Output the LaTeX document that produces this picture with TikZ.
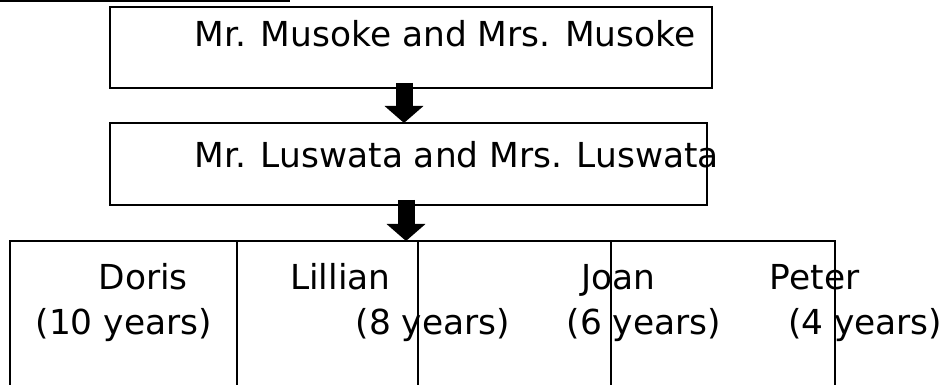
\documentclass[tikz,border=0pt]{standalone}
\usepackage{fontspec}
\setmainfont{DejaVu Sans}
\usetikzlibrary{arrows.meta}
\begin{document}
\begin{tikzpicture}[x=1pt,y=1pt]
	\tikzstyle{FB}=[rectangle,draw=black,line width=2pt,inner sep=0pt,outer sep=0pt]
	\tikzstyle{TX}=[anchor=base west,inner sep=0pt,font=\fontsize{34.4}{40}\selectfont]
	\tikzstyle{AR}=[line width=17pt,-{Triangle[width=38pt,length=17pt]}]
	\path[use as bounding box,clip] (0,0) rectangle (946,385);
	
	\draw[line width=2pt] (0,383.5) -- (290,383.5);
	
	\begin{scope}
	\node[FB,minimum width=602pt,minimum height=81pt] (musoke)  at (411,337.5) {};
	\node[FB,minimum width=597pt,minimum height=82pt] (luswata) at (408.5,221) {};
	
	\node[FB,minimum width=227pt,minimum height=160pt] (doriscell)   at (123.5,64) {};
	\node[FB,minimum width=181pt,minimum height=160pt] (lilliancell) at (327.5,64) {};
	\node[FB,minimum width=193pt,minimum height=160pt] (joancell)    at (514.5,64) {};
	\node[FB,minimum width=224pt,minimum height=160pt] (petercell)   at (723,64)   {};
	\end{scope}
	
	\node[TX] (musoketx)  at (194.6,338) {Mr. Musoke and Mrs. Musoke};
	\node[TX] (luswatatx) at (194.6,217) {Mr. Luswata and Mrs. Luswata};
	
	\node[TX] (doris)      at (98.4,95.7)  {Doris};
	\node[TX] (dorisage)   at (35.4,50)    {(10 years)};
	\node[TX] (lillian)    at (290,95.7)   {Lillian};
	\node[TX] (lillianage) at (355.4,50)   {(8 years)};
	\node[TX] (joan)       at (580.8,95.7) {Joan};
	\node[TX] (joanage)    at (566.4,50)   {(6 years)};
	\node[TX] (peter)      at (769.7,95.7) {Peter};
	\node[TX] (peterage)   at (787.8,50)   {(4 years)};
	
	\draw[AR] ([xshift=-7pt,yshift=5pt]musoke.south) -- ([xshift=-4.5pt]luswata.north);
	\draw[AR] ([xshift=-2.5pt,yshift=5pt]luswata.south) -- ([xshift=78.5pt]lilliancell.north);
\end{tikzpicture}
\end{document}
